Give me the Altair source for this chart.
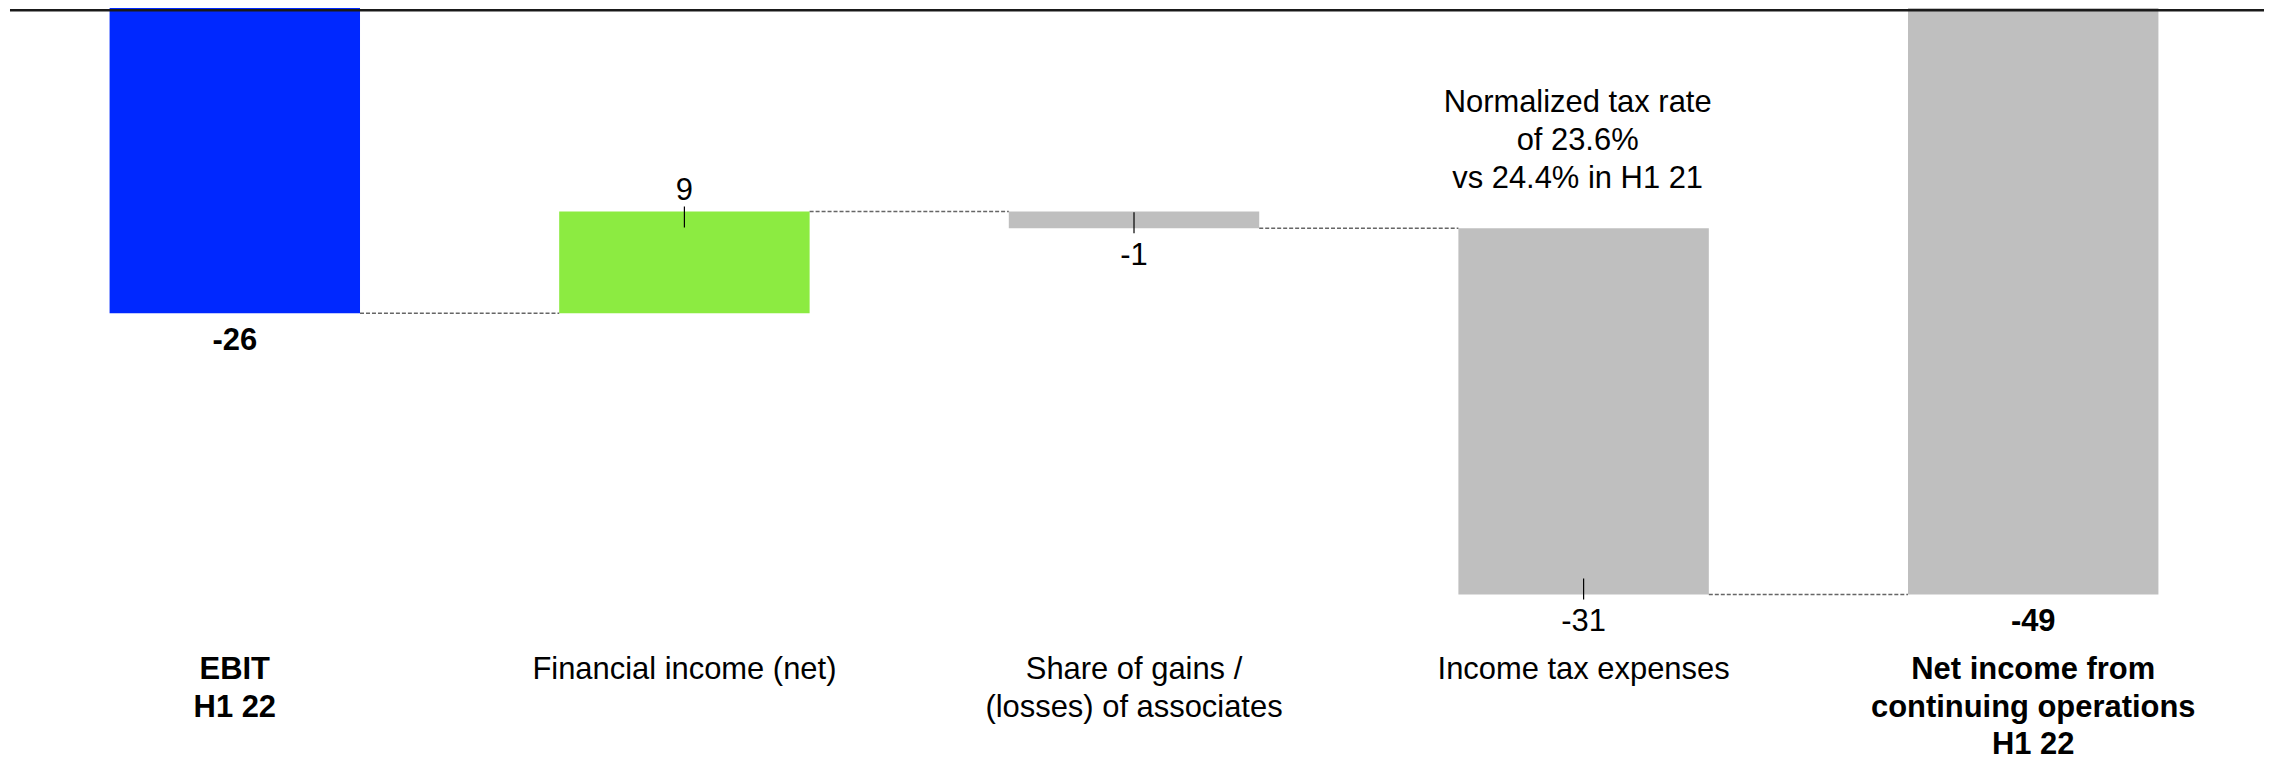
import altair as alt
import pandas as pd

# ---------------- data ----------------
categories = ["EBIT", "Financial income", "Associates", "Income tax", "Net income"]
category_labels = [
    "EBIT\nH1 22",
    "Financial income (net)",
    "Share of gains /\n(losses) of associates",
    "Income tax expenses",
    "Net income from\ncontinuing operations\nH1 22",
]
values = [-25.5, 8.5, -1.4, -30.6, -49.0]
kinds = ["total", "delta", "delta", "delta", "total"]
value_labels = ["-26", "9", "-1", "-31", "-49"]
annotation_lines = ["Normalized tax rate", "of 23.6%", "vs 24.4% in H1 21"]
annotation_category = "Income tax"

# ---------------- styles ----------------
bar_colors = ["#0028FF", "#8CEB41", "#BFBFBF", "#BFBFBF", "#BFBFBF"]
FONT = "Liberation Sans"
W, H = 2262, 754
PX_PER_UNIT = 12.0

# ---------------- build tables ----------------
rows = []
running = 0.0
for c, lab, v, k, vl in zip(categories, category_labels, values, kinds, value_labels):
    if k == "total":
        start, end = 0.0, v
    else:
        start, end = running, running + v
    running = end
    rows.append(dict(cat=c, label=lab, start=start, end=end,
                     lo=min(start, end), hi=max(start, end), kind=k,
                     vlabel=vl, sign="pos" if end > start else "neg"))
df = pd.DataFrame(rows)

conn = pd.DataFrame([
    dict(cat=categories[i], nxt=categories[i + 1], level=rows[i]["end"])
    for i in range(len(categories) - 1)
])

ann = pd.DataFrame([dict(cat=annotation_category, text="\n".join(annotation_lines))])
zero = pd.DataFrame({"z": [0.0]})

xscale = alt.Scale(domain=categories, range=[2, 2256], paddingInner=0.443, paddingOuter=0.2215)
yscale = alt.Scale(domain=[-H / PX_PER_UNIT, 0], range=[H - 1, -1], nice=False, zero=False)

X = alt.X("cat:N", scale=xscale, axis=None, sort=categories)

base = alt.Chart(df)

bars = base.mark_bar().encode(
    x=X,
    y=alt.Y("start:Q", scale=yscale, axis=None),
    y2="end:Q",
    color=alt.Color("cat:N", scale=alt.Scale(domain=categories, range=bar_colors), legend=None),
)

connectors = alt.Chart(conn).mark_rule(color="#666666", strokeWidth=1.5, strokeDash=[4, 2]).encode(
    x=alt.X("cat:N", scale=xscale, axis=None, bandPosition=1),
    x2=alt.X2("nxt:N", bandPosition=0),
    y=alt.Y("level:Q", scale=yscale, axis=None),
)

ticks_pos = base.transform_filter(
    "datum.kind == 'delta' && datum.sign == 'pos'"
).mark_rule(color="black", strokeWidth=1.2, yOffset=-5, y2Offset=16).encode(
    x=X, y=alt.Y("end:Q", scale=yscale, axis=None), y2="end:Q"
)
ticks_neg = base.transform_filter(
    "datum.kind == 'delta' && datum.sign == 'neg'"
).mark_rule(color="black", strokeWidth=1.2, yOffset=-16, y2Offset=5).encode(
    x=X, y=alt.Y("end:Q", scale=yscale, axis=None), y2="end:Q"
)

vl_neg_total = base.transform_filter("datum.sign == 'neg' && datum.kind == 'total'").mark_text(
    font=FONT, fontSize=31, fontWeight="bold", baseline="alphabetic", dy=37, color="black"
).encode(x=X, y=alt.Y("lo:Q", scale=yscale, axis=None), text="vlabel:N")
vl_neg_delta = base.transform_filter("datum.sign == 'neg' && datum.kind == 'delta'").mark_text(
    font=FONT, fontSize=31, baseline="alphabetic", dy=37, color="black"
).encode(x=X, y=alt.Y("lo:Q", scale=yscale, axis=None), text="vlabel:N")
vl_pos = base.transform_filter("datum.sign == 'pos'").mark_text(
    font=FONT, fontSize=31, baseline="alphabetic", dy=-11, color="black"
).encode(x=X, y=alt.Y("hi:Q", scale=yscale, axis=None), text="vlabel:N")

cat_total = base.transform_filter("datum.kind == 'total'").mark_text(
    font=FONT, fontSize=31, fontWeight="bold", baseline="alphabetic", lineBreak="\n",
    lineHeight=37.5, color="black"
).encode(x=X, y=alt.value(672), text="label:N")
cat_delta = base.transform_filter("datum.kind == 'delta'").mark_text(
    font=FONT, fontSize=31, baseline="alphabetic", lineBreak="\n",
    lineHeight=37.5, color="black"
).encode(x=X, y=alt.value(672), text="label:N")

annotation = alt.Chart(ann).mark_text(
    font=FONT, fontSize=31, baseline="alphabetic", lineBreak="\n", lineHeight=38,
    color="black", dx=-6
).encode(x=alt.X("cat:N", scale=xscale, axis=None), y=alt.value(103), text="text:N")

zero_line = alt.Chart(zero).mark_rule(color="#1A1A1A", strokeWidth=2.5, yOffset=2.2).encode(
    y=alt.Y("z:Q", scale=yscale, axis=None), x=alt.value(2), x2=alt.value(W)
)

chart = alt.layer(
    bars, connectors, ticks_pos, ticks_neg, vl_neg_total, vl_neg_delta, vl_pos,
    cat_total, cat_delta, annotation, zero_line
).properties(
    width=W, height=H, padding=0,
    autosize=alt.AutoSizeParams(type="none"),
).configure_view(stroke=None)

chart.save("out.html", embed_options={"renderer": "svg", "actions": False})
